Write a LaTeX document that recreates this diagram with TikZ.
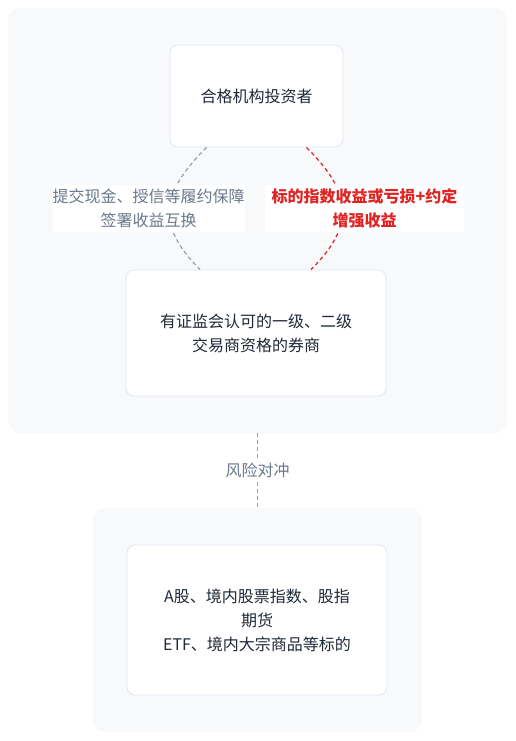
\documentclass[tikz,border=0pt]{standalone}
\usepackage{fontspec}
\setmainfont{Noto Sans CJK SC}
\usetikzlibrary{calc, positioning}
\definecolor{groupfill}{HTML}{F8F9FB}
\definecolor{boxline}{HTML}{E1E6EE}
\definecolor{textdark}{HTML}{1F2937}
\definecolor{labelgray}{HTML}{6B778C}
\definecolor{edgegray}{HTML}{94A0B4}
\definecolor{edgered}{HTML}{E02424}

\tikzset{
    group/.style={draw=none, fill=groupfill, rounded corners=12pt, inner sep=0pt},
    entity/.style={draw=boxline, line width=0.8pt, fill=white, rounded corners=8pt, inner sep=0pt,
        align=center, text=textdark, font=\fontsize{16}{24}\selectfont},
    edgelabel/.style={fill=white, inner sep=0pt, align=center, font=\fontsize{16}{24}\selectfont},
    link/.style={line width=1.2pt, dash pattern=on 4pt off 3pt}
}

\begin{document}
\begin{tikzpicture}[x=1pt, y=-1pt]
                    \useasboundingbox (0, 0) rectangle (515, 741);

                    \node[group, minimum width=499pt, minimum height=425pt] (Grp1) at (257.5, 220.5) {};
                    \node[group, minimum width=329pt, minimum height=224pt] (Grp2) at (257.5, 620) {};

                    \node[entity, minimum width=173pt, minimum height=102pt] (Inv) at (256.5, 96) {合格机构投资者};
                    \node[entity, minimum width=260pt, minimum height=126pt] (Broker) at (256, 333) {有证监会认可的一级、二级\\交易商资格的券商};
                    \node[entity, minimum width=260pt, minimum height=150pt] (Asset) at (257, 620) {A股、境内股票指数、股指\\期货\\ETF、境内大宗商品等标的};

                    \draw[link, edgegray] ($(Inv.south)+(-50, 0)$) .. controls +(-45, 45) and +(-45, -45) .. ($(Broker.north)+(-56, 0)$);
                    \draw[link, edgered] ($(Inv.south)+(50, 0)$) .. controls +(45, 45) and +(45, -45) .. ($(Broker.north)+(55, 0)$);

                    \node[edgelabel, text=labelgray, minimum width=191pt, minimum height=47pt] (payLbl) at (148.5, 208.5) {提交现金、授信等履约保障\\签署收益互换};
                    \node[edgelabel, text=edgered, font=\fontsize{16}{24}\selectfont\bfseries, minimum width=199pt, minimum height=47pt] (gainLbl) at (364.5, 208.5) {标的指数收益或亏损+约定\\增强收益};

                    \draw[link, edgegray] (Grp1.south) -- (Grp2.north) node[midway, edgelabel, text=labelgray, inner sep=2pt] (hedgeLbl) {风险对冲};
            \end{tikzpicture}
\end{document}
